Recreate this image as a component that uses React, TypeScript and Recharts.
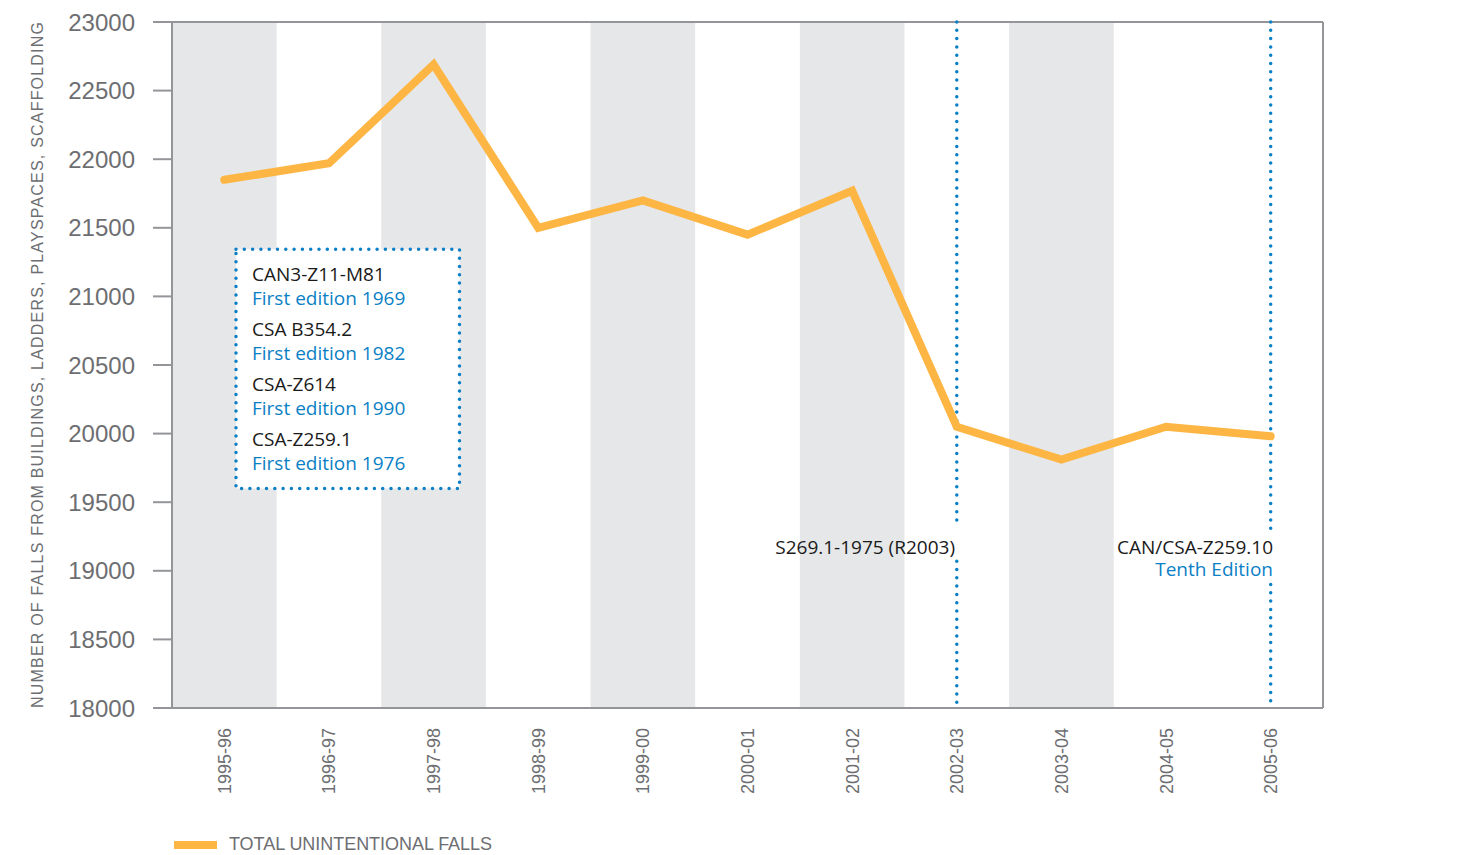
import {
  ComposedChart,
  Line,
  XAxis,
  YAxis,
  ReferenceArea,
  ReferenceLine,
  Legend,
} from "recharts";

// Fiscal years on the x axis
const PERIODS = [
  "1995-96",
  "1996-97",
  "1997-98",
  "1998-99",
  "1999-00",
  "2000-01",
  "2001-02",
  "2002-03",
  "2003-04",
  "2004-05",
  "2005-06",
];

// Total unintentional falls
const TOTAL_FALLS = [
  21850, 21970, 22690, 21500, 21700, 21450, 21770, 20050, 19810, 20050, 19980,
];

const Y_TICKS = [18000, 18500, 19000, 19500, 20000, 20500, 21000, 21500, 22000, 22500, 23000];

// Every other year is shaded grey
const SHADED_PERIODS = ["1995-96", "1997-98", "1999-00", "2001-02", "2003-04", "2005-06"];

const STANDARDS = [
  { code: "CAN3-Z11-M81", note: "First edition 1969" },
  { code: "CSA B354.2", note: "First edition 1982" },
  { code: "CSA-Z614", note: "First edition 1990" },
  { code: "CSA-Z259.1", note: "First edition 1976" },
];

const ORANGE = "#fdb644";
const BAND = "#e6e7e8";
const AXIS = "#939598";
const TEXT = "#6d6e71";
const BLUE = "#0b7fc5";
const INK = "#1a1a1a";
const SANS = "'Liberation Sans', Arial, sans-serif";
const HUMANIST = "'Open Sans', 'Noto Sans', sans-serif";

const W = 1443;
const H = 847;

const data = PERIODS.map((period, i) => ({ period, falls: TOTAL_FALLS[i] }));

function PeriodTick(props: any) {
  const { x, y, payload } = props;
  return (
    <text
      transform={`translate(${x + 6.5},${y}) rotate(-90)`}
      textAnchor="end"
      fontSize={18}
      fontFamily={SANS}
      fill={TEXT}
    >
      {payload.value}
    </text>
  );
}

function AxisTitle(props: any) {
  const vb = props.viewBox;
  const cx = vb.x - 29;
  const cy = vb.y + vb.height / 2;
  return (
    <text
      transform={`translate(${cx},${cy}) rotate(-90)`}
      textAnchor="middle"
      fontSize={16}
      fontFamily={SANS}
      fill={TEXT}
      textLength={686}
      lengthAdjust="spacing"
    >
      NUMBER OF FALLS FROM BUILDINGS, LADDERS, PLAYSPACES, SCAFFOLDING
    </text>
  );
}

function FallsLegend(props: any) {
  const item = props.payload?.[0];
  if (!item) return null;
  return (
    <svg width={340} height={24} style={{ display: "block" }}>
      <rect x={0} y={7} width={43} height={8} fill={ORANGE} />
      <text
        x={55}
        y={16}
        fontSize={18}
        fontFamily={SANS}
        fill={TEXT}
        textLength={263}
        lengthAdjust="spacing"
      >
        {item.value}
      </text>
    </svg>
  );
}

const dotted = {
  stroke: BLUE,
  strokeWidth: 3.5,
  strokeDasharray: "0 8.3",
  strokeLinecap: "round" as const,
};

export default function App() {
  return (
    <div style={{ position: "relative", width: W, height: H }}>
      <ComposedChart
        width={W}
        height={H}
        data={data}
        margin={{ top: 14, right: 28, bottom: 47, left: 64 }}
      >
        {SHADED_PERIODS.map((p) => (
          <ReferenceArea
            key={p}
            yAxisId="left"
            x1={p}
            x2={p}
            y1={18000}
            y2={23000}
            fill={BAND}
            fillOpacity={1}
            stroke="none"
          />
        ))}
        <XAxis
          dataKey="period"
          scale="band"
          interval={0}
          height={100}
          tickSize={0}
          tickMargin={20}
          tickLine={false}
          axisLine={{ stroke: AXIS, strokeWidth: 2 }}
          tick={<PeriodTick />}
        />
        <YAxis
          yAxisId="left"
          domain={[18000, 23000]}
          ticks={Y_TICKS}
          interval={0}
          width={100}
          tickSize={19}
          tickMargin={18}
          axisLine={{ stroke: AXIS, strokeWidth: 2 }}
          tickLine={{ stroke: AXIS, strokeWidth: 2 }}
          tick={{ fontSize: 24, fill: TEXT, fontFamily: SANS }}
          label={AxisTitle}
        />
        <YAxis
          yAxisId="right"
          orientation="right"
          domain={[18000, 23000]}
          ticks={Y_TICKS}
          interval={0}
          width={100}
          tickSize={18}
          tickMargin={19}
          axisLine={{ stroke: AXIS, strokeWidth: 2 }}
          tickLine={{ stroke: AXIS, strokeWidth: 2 }}
          tick={{ fontSize: 24, fill: TEXT, fontFamily: SANS, textAnchor: "start" }}
        />
        <ReferenceLine yAxisId="left" y={23000} stroke={AXIS} strokeWidth={2} />
        {/* dotted markers, broken where their labels sit */}
        <ReferenceLine
          yAxisId="left"
          segment={[{ x: "2002-03", y: 23000 }, { x: "2002-03", y: 19350 }]}
          {...dotted}
        />
        <ReferenceLine
          yAxisId="left"
          segment={[{ x: "2002-03", y: 19070 }, { x: "2002-03", y: 18030 }]}
          {...dotted}
        />
        <ReferenceLine
          yAxisId="left"
          segment={[{ x: "2005-06", y: 23000 }, { x: "2005-06", y: 19290 }]}
          {...dotted}
        />
        <ReferenceLine
          yAxisId="left"
          segment={[{ x: "2005-06", y: 18900 }, { x: "2005-06", y: 18030 }]}
          {...dotted}
        />
        <Line
          yAxisId="left"
          dataKey="falls"
          name="TOTAL UNINTENTIONAL FALLS"
          type="linear"
          stroke={ORANGE}
          strokeWidth={8}
          strokeLinecap="round"
          dot={false}
          activeDot={false}
          isAnimationActive={false}
        />
        <Legend
          layout="horizontal"
          verticalAlign="middle"
          align="center"
          wrapperStyle={{ left: 166, top: 826, width: 360 }}
          content={<FallsLegend />}
        />
      </ComposedChart>

      {/* standards box */}
      <svg
        width={232}
        height={248}
        style={{ position: "absolute", left: 225, top: 238 }}
      >
        <rect
          x={3}
          y={3.3}
          width={223.5}
          height={239.2}
          fill="#fff"
          {...dotted}
        />
      </svg>
      <div
        style={{
          position: "absolute",
          left: 244,
          top: 253.6,
          fontFamily: HUMANIST,
          fontSize: 19,
          lineHeight: "24px",
          whiteSpace: "nowrap",
        }}
      >
        {STANDARDS.map((s) => (
          <div key={s.code} style={{ marginBottom: 7 }}>
            <div style={{ color: INK }}>{s.code}</div>
            <div style={{ color: BLUE }}>{s.note}</div>
          </div>
        ))}
      </div>

      <div
        style={{
          position: "absolute",
          right: 496,
          top: 527.6,
          fontFamily: HUMANIST,
          fontSize: 19,
          lineHeight: "22px",
          color: INK,
          textAlign: "right",
          whiteSpace: "nowrap",
        }}
      >
        S269.1-1975 (R2003)
      </div>
      <div
        style={{
          position: "absolute",
          right: 178,
          top: 527.6,
          fontFamily: HUMANIST,
          fontSize: 19,
          lineHeight: "22px",
          textAlign: "right",
          whiteSpace: "nowrap",
        }}
      >
        <div style={{ color: INK }}>CAN/CSA-Z259.10</div>
        <div style={{ color: BLUE }}>Tenth Edition</div>
      </div>
    </div>
  );
}
